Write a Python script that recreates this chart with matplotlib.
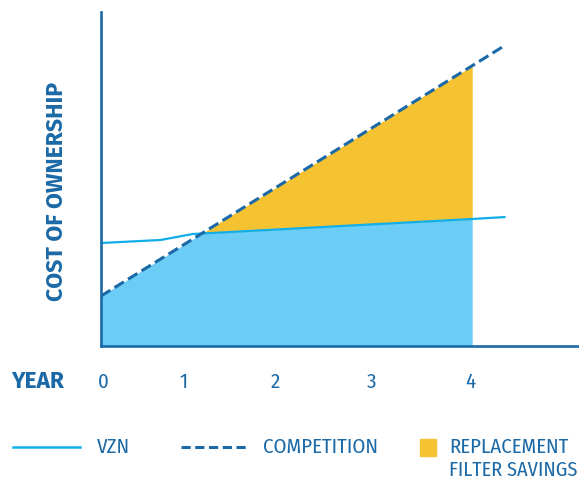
import numpy as np
import matplotlib
matplotlib.use("Agg")
import matplotlib.pyplot as plt
from matplotlib.lines import Line2D
from matplotlib.patches import Rectangle

# values (x in years, y in arbitrary cost units)
vzn_x = [0.0, 0.64, 0.99, 4.0, 4.36]
vzn_y = [103, 106, 112, 127, 129]
comp_x = [0.0, 4.36]
comp_y = [50, 301]
fill_end = 4.0
year_ticks = [0.03, 0.89, 1.88, 2.91, 3.98]
year_labels = ["0", "1", "2", "3", "4"]

DARK = "#1b69a6"
CYAN = "#12aeea"
LIGHT = "#6bcdf5"
GOLD = "#f5c332"

plt.rcParams['font.family'] = ['Fira Sans Condensed', 'DejaVu Sans']
FS = 15
BOLD = ['Fira Sans', 'DejaVu Sans']

W, H = 579, 480
fig = plt.figure(figsize=(W / 100, H / 100), dpi=100)

def px(x, y):
    # pixel position (from top-left) to figure fraction
    return x / W, 1 - y / H

ax = fig.add_axes([101 / W, 1 - 346 / H, (578 - 101) / W, (346 - 12) / H])
ax.set_xlim(0, 5.14)
ax.set_ylim(0, 334)

grid = np.linspace(0, fill_end, 500)
v = np.interp(grid, vzn_x, vzn_y)
c = np.interp(grid, comp_x, comp_y)
ax.fill_between(grid, 0, np.minimum(v, c), color=LIGHT, lw=0)
ax.fill_between(grid, v, c, where=c >= v, interpolate=True, color=GOLD, lw=0)

ax.plot(vzn_x, vzn_y, color=CYAN, lw=1.6, solid_capstyle='butt')
ax.plot(comp_x, comp_y, color=DARK, lw=2.2, dashes=(3.6, 1.6))

for s in ["top", "right"]:
    ax.spines[s].set_visible(False)
for s in ["left", "bottom"]:
    ax.spines[s].set_color(DARK)
    ax.spines[s].set_linewidth(1.9)
ax.set_yticks([])
ax.set_xticks(year_ticks, year_labels)
ax.tick_params(axis='x', length=0, pad=19, labelsize=FS, labelcolor=DARK)

ax.set_ylabel("COST OF OWNERSHIP", color=DARK, fontsize=16.6, fontweight='bold',
              family=BOLD, va='center')
ax.yaxis.set_label_coords(-0.094, 0.464)
fig.text(*px(11, 381), "YEAR", color=DARK, fontsize=16.4, fontweight='bold',
         family=BOLD, ha='left', va='center')

# legend
ly = px(0, 447)[1]
fig.add_artist(Line2D([13 / W, 80 / W], [ly, ly], color=CYAN, lw=1.8))
fig.text(*px(97, 447), "VZN", color=DARK, fontsize=FS, ha='left', va='center')
fig.add_artist(Line2D([181 / W, 248 / W], [ly, ly], color=DARK,
                      lw=2.2, dashes=(3.0, 1.5)))
fig.text(*px(263, 447), "COMPETITION", color=DARK, fontsize=FS, ha='left', va='center')
fig.add_artist(Rectangle(px(420, 456), 16 / W, 17 / H, color=GOLD,
                         transform=fig.transFigure))
fig.text(*px(449, 447), "REPLACEMENT", color=DARK, fontsize=FS, ha='left', va='center')
fig.text(*px(449, 470), "FILTER SAVINGS", color=DARK, fontsize=14.6, ha='left', va='center')

fig.savefig("out.png", dpi=100)
